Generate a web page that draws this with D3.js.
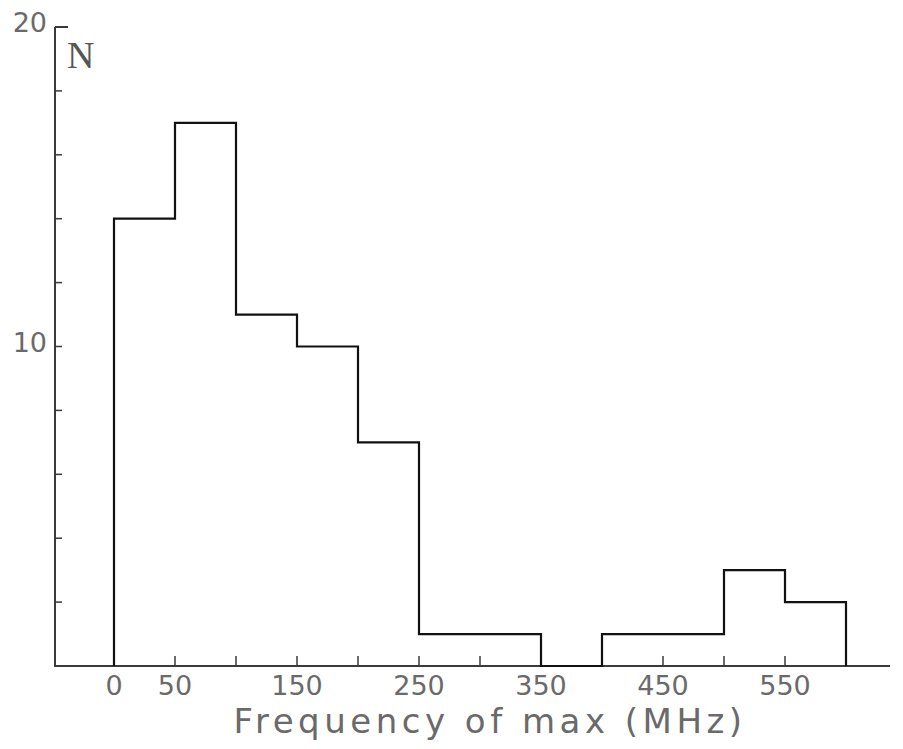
<!DOCTYPE html>
<html>
<head>
<meta charset="utf-8">
<script src="https://cdn.jsdelivr.net/npm/d3@7"></script>
<style>
  body { margin: 0; background: #fff; }
  svg { display: block; }
</style>
</head>
<body>
<svg id="chart" width="903" height="749"></svg>
<script>
// histogram of frequency of max, 50 MHz bins
var binStarts = [0, 50, 100, 150, 200, 250, 300, 350, 400, 450, 500, 550];
var counts    = [14, 17, 11, 10, 7, 1, 1, 0, 1, 1, 3, 2];
var binWidth = 50;
var xTickMarks = [50, 100, 150, 200, 250, 300, 450, 500, 550];
var xTickLabels = [0, 50, 150, 250, 350, 450, 550];
var yTickMarks = [2, 4, 6, 8, 10, 12, 14, 16, 18];
var yTickLabels = [10, 20];

var svg = d3.select("#chart");

var x = d3.scaleLinear().domain([0, 100]).range([114, 236]);
var y = d3.scaleLinear().domain([0, 20]).range([666, 27]);

var axisColor = "#3a3a3a",
    textColor = "#6a6a6a",
    fontFam = "'DejaVu Sans', sans-serif";

// axes lines
svg.append("line")
  .attr("x1", 55).attr("x2", 55)
  .attr("y1", y(20)).attr("y2", y(0))
  .attr("stroke", axisColor).attr("stroke-width", 2);
svg.append("line")
  .attr("x1", 54).attr("x2", 890)
  .attr("y1", y(0)).attr("y2", y(0))
  .attr("stroke", axisColor).attr("stroke-width", 2);
// top cap
svg.append("line")
  .attr("x1", 55).attr("x2", 68)
  .attr("y1", y(20)).attr("y2", y(20))
  .attr("stroke", axisColor).attr("stroke-width", 2);

// y ticks (inward)
svg.selectAll(".ytick").data(yTickMarks).enter().append("line")
  .attr("class", "ytick")
  .attr("x1", 55).attr("x2", 62)
  .attr("y1", d => y(d)).attr("y2", d => y(d))
  .attr("stroke", axisColor).attr("stroke-width", 1.5);

svg.selectAll(".ylab").data(yTickLabels).enter().append("text")
  .attr("class", "ylab")
  .attr("x", 47)
  .attr("y", d => y(d) + 5)
  .attr("text-anchor", "end")
  .attr("font-family", fontFam)
  .attr("font-size", 27)
  .attr("fill", textColor)
  .text(d => d);

svg.append("text")
  .attr("x", 67).attr("y", 68)
  .attr("font-family", "'Liberation Serif', serif")
  .attr("font-size", 38)
  .attr("fill", "#555")
  .text("N");

// x ticks (inward)
svg.selectAll(".xtick").data(xTickMarks).enter().append("line")
  .attr("class", "xtick")
  .attr("x1", d => x(d)).attr("x2", d => x(d))
  .attr("y1", y(0)).attr("y2", y(0) - 10)
  .attr("stroke", axisColor).attr("stroke-width", 1.5);

svg.selectAll(".xlab").data(xTickLabels).enter().append("text")
  .attr("class", "xlab")
  .attr("x", d => x(d))
  .attr("y", 695)
  .attr("text-anchor", "middle")
  .attr("font-family", fontFam)
  .attr("font-size", 27)
  .attr("fill", textColor)
  .text(d => d);

svg.append("text")
  .attr("x", 490).attr("y", 733)
  .attr("text-anchor", "middle")
  .attr("font-family", fontFam)
  .attr("font-size", 34)
  .attr("letter-spacing", 4.5)
  .attr("fill", textColor)
  .text("Frequency of max (MHz)");

// histogram outline
var pts = [[0, 0]];
binStarts.forEach((b, i) => pts.push([b, counts[i]]));
var last = binStarts.length - 1;
pts.push([binStarts[last] + binWidth, counts[last]]);
pts.push([binStarts[last] + binWidth, 0]);

var line = d3.line()
  .x(d => x(d[0]))
  .y(d => y(d[1]))
  .curve(d3.curveStepAfter);

svg.append("path")
  .datum(pts)
  .attr("d", line)
  .attr("fill", "none")
  .attr("stroke", "#111")
  .attr("stroke-width", 2.2);
</script>
</body>
</html>
